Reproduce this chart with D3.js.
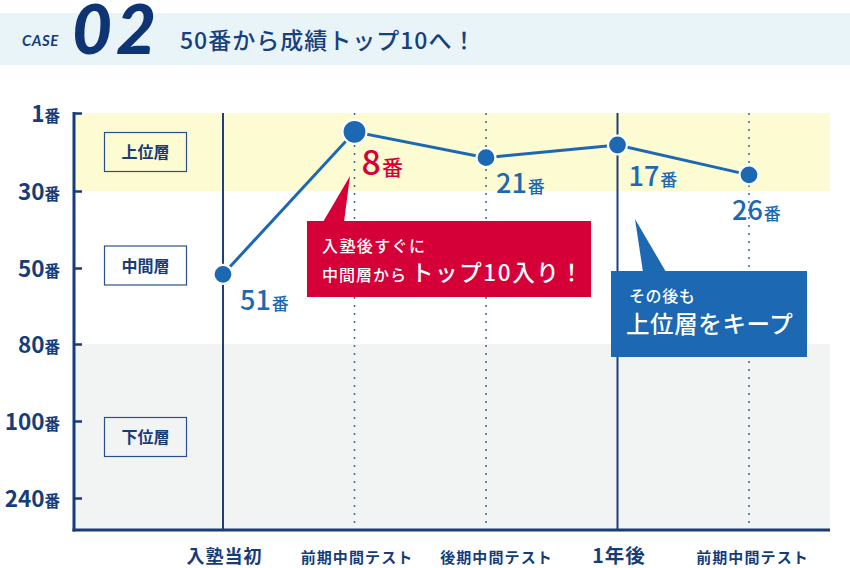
<!DOCTYPE html>
<html><head><meta charset="utf-8">
<script src="https://cdn.jsdelivr.net/npm/d3@7"></script>
<style>
html,body{margin:0;padding:0;background:#fff;}
svg{display:block;font-family:"Noto Sans CJK JP","Noto Sans",sans-serif;}
</style></head>
<body>
<svg id="c" width="850" height="568"></svg>
<script>
// ---- data ----
const categories = ["入塾当初","前期中間テスト","後期中間テスト","1年後","前期中間テスト"];
const rankLabels = [51, 8, 21, 17, 26];            // rank shown beside each point
const plotRanks  = [52.5, 8, 17.6, 12.9, 24];      // where each point sits on the rank axis (as drawn)
const rankTicks  = [1, 30, 50, 80, 100, 240];      // y-axis tick labels (番)
const bands      = [{name:"上位層", from:1, to:30},{name:"中間層", from:30, to:80},{name:"下位層", from:80, to:null}];
const title = "50番から成績トップ10へ！";
const caseNo = "02";
const callout1 = ["入塾後すぐに","中間層から","トップ10入り！"];
const callout2 = ["その後も","上位層をキープ"];

// ---- layout / style ----
const NAVY = "#163c7a", BLUE = "#1c68b3", RED = "#d50037";
const svg = d3.select("#c");
const L = 74, R = 830, T = 113, B = 530;

const x = d3.scalePoint().domain(d3.range(categories.length)).range([223, 749]);
const y = d3.scaleLinear().domain(rankTicks).range([113, 191, 268, 344, 421, 498]);

// header band
svg.append("rect").attr("x",0).attr("y",13).attr("width",850).attr("height",52).attr("fill","#e8f4f7");
svg.append("text").attr("x",22).attr("y",46).attr("fill",NAVY)
  .style("font-family","Lato, Roboto, sans-serif").style("font-style","italic").style("font-weight",700)
  .style("font-size","15px").style("letter-spacing","0.5px").text("CASE");
svg.append("text").attr("x",72).attr("y",53.5).attr("fill","#0f3474")
  .style("font-family","Lato, Roboto, sans-serif").style("font-style","italic").style("font-weight",900)
  .style("font-size","69px").style("letter-spacing","4px").text(caseNo);
svg.append("text").attr("x",180).attr("y",49).attr("fill","#17407e")
  .style("font-weight",500).style("font-size","23px").style("letter-spacing","1px").text(title);

// background bands
const bandColors = ["#fdfbd1","#ffffff","#f2f3f3"];
bands.forEach((b,i)=>{
  const y0 = y(b.from), y1 = b.to==null ? B : y(b.to);
  svg.append("rect").attr("x",L).attr("y",y0).attr("width",R-L).attr("height",y1-y0).attr("fill",bandColors[i]);
});
// band label boxes
bands.forEach((b,i)=>{
  const y0 = y(b.from), y1 = b.to==null ? B : y(b.to);
  const cy = i===1 ? (y0+y1)/2 - 2 : (y0+y1)/2;
  const g = svg.append("g");
  g.append("rect").attr("x",104.5).attr("y",cy-19.5).attr("width",82).attr("height",39)
    .attr("fill","none").attr("stroke","#2a4f8a").attr("stroke-width",1.2);
  g.append("text").attr("x",145.5).attr("y",cy+6).attr("text-anchor","middle").attr("fill",NAVY)
    .style("font-weight",700).style("font-size","16px").text(b.name);
});

// vertical guide lines
categories.forEach((c,i)=>{
  const solid = (i===0 || i===3);
  svg.append("line").attr("x1",x(i)).attr("x2",x(i)).attr("y1",T).attr("y2",B)
    .attr("stroke", solid ? "#1f3f7a" : "#456ea6")
    .attr("stroke-width", solid ? 2 : 1.6)
    .attr("stroke-dasharray", solid ? null : "2,6");
});

// y axis
const yAxis = d3.axisLeft(y).tickValues(rankTicks).tickSize(-8).tickSizeOuter(0).tickPadding(14).tickFormat(d=>d);
const ya = svg.append("g").attr("transform",`translate(${L},0)`).call(yAxis);
ya.select(".domain").remove();
ya.selectAll(".tick line").attr("stroke",NAVY).attr("stroke-width",2.5);
ya.selectAll(".tick text").each(function(d){
  const t = d3.select(this);
  t.text(null).attr("fill",NAVY).style("font-family","\"Noto Sans CJK JP\",sans-serif").attr("dy",null).attr("y",8);
  t.append("tspan").style("font-size","22.5px").style("font-weight",700).text(d);
  t.append("tspan").style("font-size","15.5px").style("font-weight",700).text("番");
});
svg.append("line").attr("x1",L).attr("x2",L).attr("y1",T-1).attr("y2",B+1.5).attr("stroke",NAVY).attr("stroke-width",3);
svg.append("line").attr("x1",L-1.5).attr("x2",R).attr("y1",B).attr("y2",B).attr("stroke",NAVY).attr("stroke-width",3);

// x axis labels
const majorIdx = [0,3];
const labelShift = [1,2,10,1,3];
const xAxis = d3.axisBottom(x).tickSize(0).tickPadding(0).tickFormat(i=>categories[i]);
const xa = svg.append("g").attr("transform",`translate(0,${B})`).call(xAxis);
xa.select(".domain").remove();
xa.selectAll(".tick text").attr("y",33).attr("dy",0).attr("x",i=>labelShift[i]).attr("fill",NAVY)
  .style("font-family","\"Noto Sans CJK JP\",sans-serif").style("font-weight",700)
  .style("font-size",i=>majorIdx.includes(i) ? (i===3?"19.5px":"18px") : "15px")
  .style("letter-spacing",i=>majorIdx.includes(i) ? "1px" : "1.1px");

// line
const pts = plotRanks.map((r,i)=>({x:x(i), y:y(r), label:rankLabels[i], i}));
svg.append("path").datum(pts).attr("fill","none").attr("stroke",BLUE).attr("stroke-width",3)
  .attr("d", d3.line().x(d=>d.x).y(d=>d.y));

// callouts (drawn before points)
const red = svg.append("g");
red.append("path").attr("d","M323,222 L344,222 L350,176 Z").attr("fill",RED);
red.append("rect").attr("x",307).attr("y",221).attr("width",284).attr("height",76).attr("fill",RED);
red.append("text").attr("x",322).attr("y",252).attr("fill","#fff").style("font-weight",500)
  .style("font-size","16px").style("letter-spacing","1.4px").text(callout1[0]);
const rt = red.append("text").attr("x",322).attr("y",281).attr("fill","#fff").style("font-weight",500);
rt.append("tspan").style("font-size","16px").style("letter-spacing","1px").text(callout1[1]);
rt.append("tspan").attr("dx",4).style("font-size","22.5px").style("letter-spacing","1.6px").text(callout1[2]);

const blue = svg.append("g");
blue.append("path").attr("d","M643,272 L666,272 L635,219 Z").attr("fill",BLUE);
blue.append("rect").attr("x",611).attr("y",271).attr("width",196).attr("height",86).attr("fill",BLUE);
blue.append("text").attr("x",629).attr("y",302).attr("fill","#fff").style("font-weight",500)
  .style("font-size","16px").style("letter-spacing","0.6px").text(callout2[0]);
blue.append("text").attr("x",626).attr("y",333).attr("fill","#fff").style("font-weight",500)
  .style("font-size","23.5px").style("letter-spacing","0.6px").text(callout2[1]);

// points
const emph = 1;
svg.selectAll("circle.pt").data(pts).join("circle").attr("class","pt")
  .attr("cx",d=>d.x).attr("cy",d=>d.y).attr("r",d=>d.i===emph?12:9.5)
  .attr("fill",BLUE).attr("stroke","#fff").attr("stroke-width",2.2);

// point labels
const offsets = [[17,36],[7,43],[10,35],[11,41],[-17,45]];
pts.forEach((d,k)=>{
  const isE = d.i===emph;
  const t = svg.append("text").attr("x",d.x+offsets[k][0]).attr("y",d.y+offsets[k][1])
    .attr("fill", isE ? RED : BLUE).style("font-weight",500);
  t.append("tspan").style("font-size", isE ? "34px" : "27px").text(d.label);
  t.append("tspan").attr("dx",1).style("font-size", isE ? "21px" : "17px").text("番");
});
</script>
</body></html>
